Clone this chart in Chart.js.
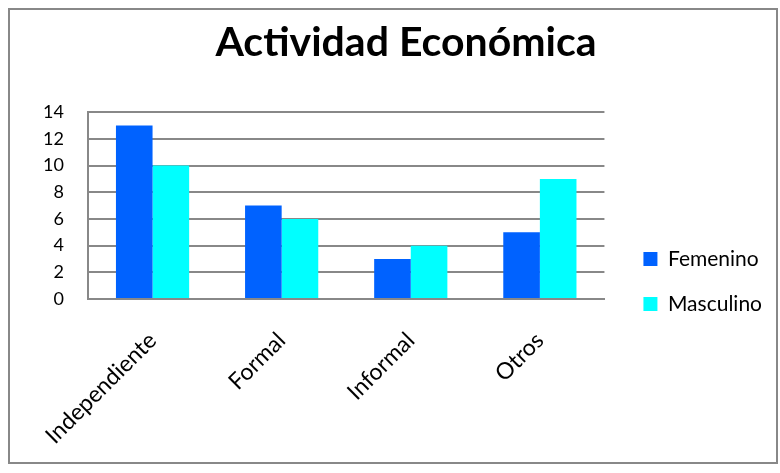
<!DOCTYPE html>
<html>
<head>
<meta charset="utf-8">
<script src="https://cdn.jsdelivr.net/npm/chart.js@4"></script>
<style>
  html, body { margin: 0; padding: 0; background: #fff; }
  #box {
    position: absolute; left: 8px; top: 8px;
    width: 770px; height: 456px;
    border: 2px solid #888; box-sizing: border-box;
  }
  canvas { display: block; }
</style>
</head>
<body>
<div id="box"><canvas id="chart" width="766" height="452"></canvas></div>
<script>
// Data
const categories = ['Independiente', 'Formal', 'Informal', 'Otros'];
const femenino = [13, 7, 3, 5];
const masculino = [10, 6, 4, 9];
const yTicks = [0, 2, 4, 6, 8, 10, 12, 14];

const fontFamily = 'Lato, "Open Sans", sans-serif';

// push the legend down so it sits beside the lower half of the plot
const legendShift = {
    id: 'legendShift',
    afterLayout(chart) {
        const lg = chart.legend;
        lg.top += 46;
        lg.bottom += 46;
    }
};

const ctx = document.getElementById('chart').getContext('2d');
window.ecoChart = new Chart(ctx, {
    type: 'bar',
    data: {
        labels: categories,
        datasets: [
            { label: 'Femenino', data: femenino, backgroundColor: '#0062FF', borderWidth: 0 },
            { label: 'Masculino', data: masculino, backgroundColor: '#00FFFF', borderWidth: 0 }
        ]
    },
    options: {
        responsive: false,
        animation: false,
        layout: { padding: { left: 30, right: 4, top: 0, bottom: 1 } },
        datasets: { bar: { categoryPercentage: 0.567, barPercentage: 1.0 } },
        plugins: {
            title: {
                display: true,
                text: 'Actividad Económica',
                color: '#000',
                font: { family: fontFamily, size: 41, weight: 'bold' },
                padding: { top: 8, bottom: 45 }
            },
            legend: {
                position: 'right',
                maxWidth: 260,
                labels: {
                    color: '#000',
                    font: { family: fontFamily, size: 21 },
                    boxWidth: 14,
                    boxHeight: 14,
                    padding: 24
                }
            },
            tooltip: { enabled: false }
        },
        scales: {
            x: {
                afterFit: axis => { axis.height = 162; },
                grid: { display: false, drawTicks: false },
                border: { color: '#888', width: 2 },
                ticks: {
                    color: '#000',
                    font: { family: fontFamily, size: 23 },
                    maxRotation: 45,
                    minRotation: 45,
                    padding: 28
                }
            },
            y: {
                min: 0,
                max: 14,
                afterBuildTicks: axis => { axis.ticks = yTicks.map(v => ({ value: v })); },
                afterFit: axis => { axis.width = 48; },
                grid: { color: '#888', lineWidth: 2, drawTicks: false },
                border: { color: '#888', width: 2 },
                ticks: {
                    color: '#000',
                    font: { family: fontFamily, size: 18 },
                    padding: 24,
                    autoSkip: false
                }
            },
            // empty axis that only keeps a gap between the plot and the legend
            gap: {
                type: 'linear',
                position: 'right',
                grid: { display: false },
                border: { display: false },
                ticks: { display: false },
                afterFit: axis => { axis.width = 15; }
            }
        }
    },
    plugins: [legendShift]
});
</script>
</body>
</html>
